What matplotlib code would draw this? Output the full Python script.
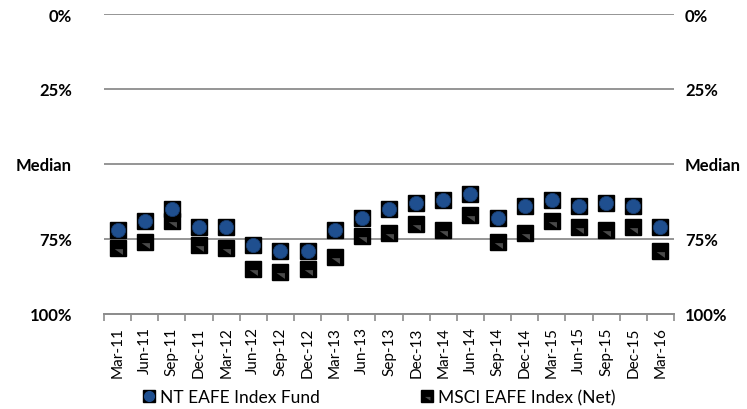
import matplotlib
matplotlib.use("Agg")
import matplotlib.pyplot as plt
import numpy as np

dates = ["Mar-11", "Jun-11", "Sep-11", "Dec-11", "Mar-12", "Jun-12", "Sep-12",
         "Dec-12", "Mar-13", "Jun-13", "Sep-13", "Dec-13", "Mar-14", "Jun-14",
         "Sep-14", "Dec-14", "Mar-15", "Jun-15", "Sep-15", "Dec-15", "Mar-16"]

# percentile ranks (0 = best, 100 = worst)
nt_fund = [72, 69, 65, 71, 71, 77, 79, 79, 72, 68, 65, 63, 62, 60,
           68, 64, 62, 64, 63, 64, 71]
msci = [78, 76, 69, 77, 78, 85, 86, 85, 81, 74, 73, 70, 72, 67,
        76, 73, 69, 71, 72, 71, 79]

rank_ticks = [0, 25, 50, 75, 100]
rank_labels = ["0%", "25%", "Median", "75%", "100%"]

plt.rcParams['font.family'] = ['Lato', 'DejaVu Sans']

fig = plt.figure(figsize=(7.47, 4.10), dpi=100)
ax = fig.add_axes([104/747, 1 - 315/410, 570/747, 300/410])

x = np.arange(len(dates))
ax.set_xlim(-0.5, len(dates) - 0.5)
ax.set_ylim(100, 0)

for t in rank_ticks[:-1]:
    ax.axhline(t, color="#8c8c8c", lw=1.3, zorder=1)

# grey wedge in the lower half of the black box
tri = [(-0.6, -0.1), (0.7, -0.1), (0.7, -1.0), (-0.6, -0.1)]
ms = 11.5

# NT fund: black box with a blue ball
ax.plot(x, nt_fund, ls="none", marker="s", ms=ms, color="black", zorder=3)
ax.plot(x, nt_fund, ls="none", marker="o", ms=ms - 1.3, color="#1f4f8f",
        markeredgecolor="#163a6b", markeredgewidth=0.6, zorder=4)
# MSCI: black box with grey corner
ax.plot(x, msci, ls="none", marker="s", ms=ms, color="black", zorder=3)
ax.plot(x, msci, ls="none", marker=tri, ms=ms * 0.8, color="#4a4a4a",
        markeredgewidth=0, zorder=4)

ax.set_yticks(rank_ticks)
ax.set_yticklabels(rank_labels, fontsize=12, fontweight="bold")
ax.tick_params(axis="y", length=0, pad=23)

ax2 = ax.twinx()
ax2.set_ylim(100, 0)
ax2.set_yticks(rank_ticks)
ax2.set_yticklabels(rank_labels, fontsize=12, fontweight="bold")
ax2.tick_params(axis="y", length=0, pad=8)

ax.set_xticks(x)
ax.set_xticklabels(dates, rotation=90, fontsize=11)
ax.set_xticks(np.arange(len(dates) + 1) - 0.5, minor=True)
ax.tick_params(axis="x", which="major", length=0, pad=9)
ax.tick_params(axis="x", which="minor", length=5, color="#8c8c8c", width=1.2)

for a in (ax, ax2):
    for s in ("top", "left", "right"):
        a.spines[s].set_visible(False)
    a.spines["bottom"].set_color("#8c8c8c")
    a.spines["bottom"].set_linewidth(1.3)

h1 = (plt.Line2D([], [], ls="none", marker="s", ms=8, color="black"),
      plt.Line2D([], [], ls="none", marker="o", ms=7, color="#1f4f8f"))
h2 = (plt.Line2D([], [], ls="none", marker="s", ms=8, color="black"),
      plt.Line2D([], [], ls="none", marker=tri, ms=6, color="#4a4a4a",
                 markeredgewidth=0))
fig.legend([h1, h2], ["NT EAFE Index Fund", "MSCI EAFE Index (Net)"],
           loc="center", bbox_to_anchor=(379/747, 1 - 398/410), ncol=2,
           frameon=False, fontsize=12.5, handlelength=0.7, handletextpad=0.3,
           columnspacing=5.8)

fig.savefig("out.png", dpi=100)
